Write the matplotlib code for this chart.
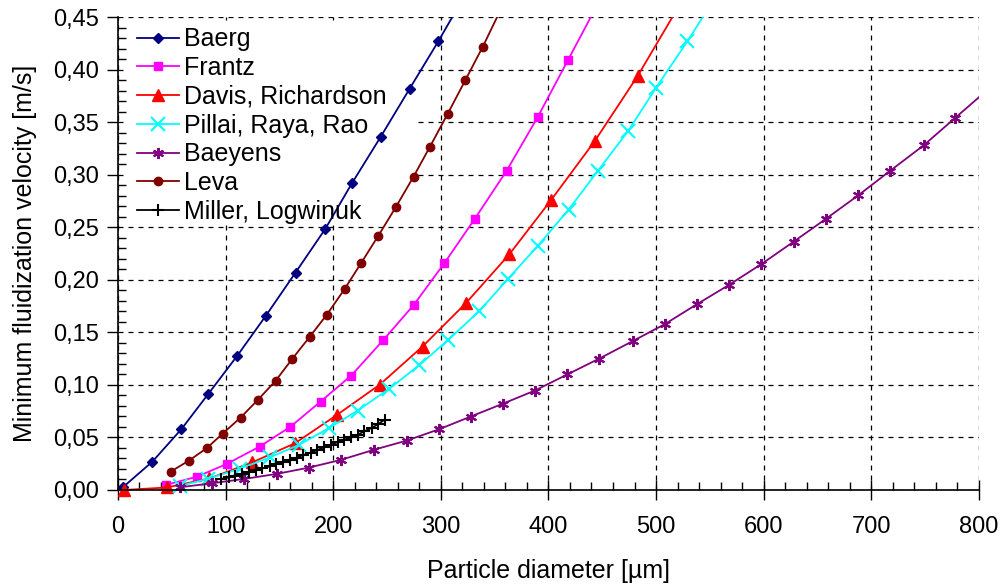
import matplotlib
matplotlib.use("Agg")
import matplotlib.pyplot as plt
from matplotlib.ticker import MultipleLocator, FuncFormatter
from matplotlib.transforms import Bbox, TransformedBbox
from matplotlib.patches import Rectangle

plt.rcParams['font.family'] = ['Liberation Sans', 'DejaVu Sans']

# data (particle diameter [um], velocity [m/s])
baerg_x = [5, 32, 59, 84, 111, 137.5, 165, 192.6, 217.4, 244, 271, 297.6, 324]
baerg_y = [0.003, 0.027, 0.058, 0.0915, 0.128, 0.166, 0.207, 0.2485, 0.292, 0.336, 0.382, 0.427, 0.474]

frantz_x = [45, 73.6, 101.5, 131.6, 160, 188.3, 216.8, 246.5, 274.7, 303.2, 331.7, 361.2, 390, 418, 447]
frantz_y = [0.005, 0.0127, 0.025, 0.0413, 0.060, 0.0842, 0.109, 0.1427, 0.176, 0.2158, 0.2584, 0.304, 0.355, 0.409, 0.465]

davis_x = [5.6, 45.5, 85, 125, 164.5, 203.5, 243.4, 283, 323.4, 363.6, 402.3, 442.9, 482.8, 522]
davis_y = [0.0, 0.0024, 0.011, 0.0264, 0.0445, 0.0715, 0.1004, 0.1366, 0.178, 0.2243, 0.2758, 0.332, 0.394, 0.462]

pillai_x = [57.6, 84, 113.4, 141, 168, 195.8, 222.7, 251.5, 280, 307, 335.4, 362.4,
            390.3, 418.8, 445.7, 474.2, 500, 529, 557]
pillai_y = [0.0038, 0.0108, 0.0203, 0.031, 0.0429, 0.0588, 0.0756, 0.096, 0.1189, 0.143, 0.170, 0.2009,
            0.2326, 0.267, 0.3035, 0.342, 0.383, 0.427, 0.472]

baeyens_x = [57.6, 87.3, 117, 147.5, 177.2, 206.9, 238.2, 268.2, 298.6, 327.7, 358, 387.5, 417.5, 447,
             478.8, 508.3, 537.7, 568, 597.8, 627.8, 657.6, 688, 717, 748.5, 778, 808]
baeyens_y = [0.0026, 0.0064, 0.0105, 0.0153, 0.0213, 0.0286, 0.0384, 0.047, 0.0579, 0.0699, 0.0823, 0.0947,
             0.110, 0.125, 0.142, 0.158, 0.1767, 0.1954, 0.215, 0.2364, 0.258, 0.2806, 0.3035, 0.328,
             0.3543, 0.381]

leva_x = [49, 66, 82.7, 97.3, 114, 130, 146.5, 161.7, 178, 194, 210.6, 225.8, 241.9, 258.3, 274.7,
          290, 306.3, 322.7, 339, 355]
leva_y = [0.0175, 0.028, 0.040, 0.0537, 0.069, 0.0858, 0.104, 0.1245, 0.1456, 0.1668, 0.1913, 0.2158,
          0.242, 0.2695, 0.2984, 0.327, 0.358, 0.390, 0.422, 0.456]

miller_x = [96, 103, 109, 115, 122, 128, 134, 141, 147, 153, 160, 166, 172, 179, 185, 191, 198, 204,
            210, 217, 223, 229, 236, 242, 248]
miller_y = [0.0105, 0.0120, 0.0136, 0.0152, 0.0169, 0.0187, 0.0205, 0.0224, 0.0244, 0.0265, 0.0287,
            0.0309, 0.0332, 0.0356, 0.0380, 0.0405, 0.0432, 0.0455, 0.0478, 0.0502, 0.0527, 0.0560,
            0.0592, 0.0630, 0.0670]

series = [
    ('Baerg', baerg_x, baerg_y, '#000080', dict(marker='D', markersize=5)),
    ('Frantz', frantz_x, frantz_y, '#FF00FF', dict(marker='s', markersize=6)),
    ('Davis, Richardson', davis_x, davis_y, '#FF0000', dict(marker='^', markersize=8)),
    ('Pillai, Raya, Rao', pillai_x, pillai_y, '#00FFFF', dict(marker='x', markersize=10, markeredgewidth=1.5)),
    ('Baeyens', baeyens_x, baeyens_y, '#800080', dict(marker=(6, 2, 0), markersize=8, markeredgewidth=1.5)),
    ('Leva', leva_x, leva_y, '#800000', dict(marker='o', markersize=6)),
    ('Miller, Logwinuk', miller_x, miller_y, '#000000', dict(marker='+', markersize=9, markeredgewidth=1.5)),
]

fig = plt.figure(figsize=(10.03, 5.85), dpi=100)
ax = fig.add_axes([0.1176, 0.1624, 0.976 - 0.1176, 0.9704 - 0.1624])

# white legend area hides the grid but not the curves (like Excel)
ax.add_patch(Rectangle((0.01, 0.563), 0.338, 0.43, transform=ax.transAxes,
                       facecolor='white', edgecolor='none', zorder=1))

# clip at top/right only, let markers on the x axis show fully
clip = TransformedBbox(Bbox([[-0.02, -0.04], [1, 1]]), ax.transAxes)
for name, x, y, c, mk in series:
    line, = ax.plot(x, y, color=c, lw=1.3, label=name, zorder=2, **mk)
    line.set_clip_box(clip)

ax.set_xlim(0, 800)
ax.set_ylim(0, 0.45)
ax.xaxis.set_major_locator(MultipleLocator(100))
ax.xaxis.set_minor_locator(MultipleLocator(20))
ax.yaxis.set_major_locator(MultipleLocator(0.05))
ax.yaxis.set_minor_locator(MultipleLocator(0.01))
ax.yaxis.set_major_formatter(FuncFormatter(lambda v, p: ('%.2f' % v).replace('.', ',')))

ax.grid(True, which='major', color='black', linestyle=(0, (4, 4)), linewidth=0.9)
ax.set_axisbelow(True)
for s in ['top', 'right']:
    ax.spines[s].set_visible(False)
for s in ['left', 'bottom']:
    ax.spines[s].set_linewidth(1.2)

ax.tick_params(axis='x', which='major', direction='inout', length=14, width=1, labelsize=17, pad=12)
ax.tick_params(axis='x', which='minor', direction='in', length=6, width=1)
ax.tick_params(axis='y', which='major', direction='out', length=8, width=1, labelsize=17, pad=6)
ax.tick_params(axis='y', which='minor', direction='in', length=6, width=1)

ax.set_xlabel('Particle diameter [µm]', fontsize=18, labelpad=15)
ax.set_ylabel('Minimum fluidization velocity [m/s]', fontsize=18, labelpad=11)

ax.legend(loc='upper left', frameon=False, fontsize=18, handlelength=1.7,
          labelspacing=0.19, handletextpad=0.2, borderaxespad=0.0, bbox_to_anchor=(0.01, 1.0))

fig.savefig('out.png', dpi=100)
